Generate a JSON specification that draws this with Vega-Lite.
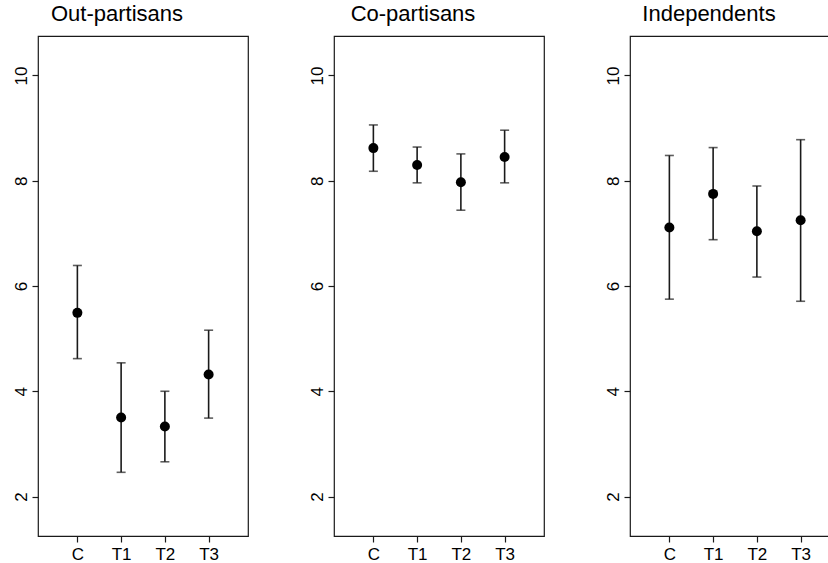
{
  "$schema": "https://vega.github.io/schema/vega-lite/v6.json",
  "padding": {"left": 11, "top": 2, "right": 0, "bottom": 0},
  "background": "white",
  "bounds": "flush",
  "spacing": 86,
  "data": {"values": [
    {"group": "Out-partisans", "cond": "C", "est": 5.49, "lo": 4.62, "hi": 6.39},
    {"group": "Out-partisans", "cond": "T1", "est": 3.50, "lo": 2.46, "hi": 4.54},
    {"group": "Out-partisans", "cond": "T2", "est": 3.33, "lo": 2.66, "hi": 4.00},
    {"group": "Out-partisans", "cond": "T3", "est": 4.32, "lo": 3.49, "hi": 5.16},
    {"group": "Co-partisans", "cond": "C", "est": 8.62, "lo": 8.18, "hi": 9.06},
    {"group": "Co-partisans", "cond": "T1", "est": 8.30, "lo": 7.96, "hi": 8.64},
    {"group": "Co-partisans", "cond": "T2", "est": 7.97, "lo": 7.44, "hi": 8.51},
    {"group": "Co-partisans", "cond": "T3", "est": 8.45, "lo": 7.96, "hi": 8.96},
    {"group": "Independents", "cond": "C", "est": 7.11, "lo": 5.75, "hi": 8.48},
    {"group": "Independents", "cond": "T1", "est": 7.75, "lo": 6.88, "hi": 8.63},
    {"group": "Independents", "cond": "T2", "est": 7.04, "lo": 6.17, "hi": 7.90},
    {"group": "Independents", "cond": "T3", "est": 7.25, "lo": 5.71, "hi": 8.78}
  ]},
  "config": {
    "font": "Liberation Sans",
    "view": {"stroke": "#1a1a1a", "strokeWidth": 1.2},
    "axis": {"grid": false, "domain": false, "tickColor": "#1a1a1a", "tickSize": 6, "tickWidth": 1.2, "labelFont": "Liberation Sans", "labelFontSize": 17, "labelColor": "black"},
    "title": {"fontSize": 22, "fontWeight": "normal", "font": "Liberation Sans", "anchor": "middle", "dx": -26, "offset": 10, "baseline": "alphabetic", "color": "black"}
  },
  "hconcat": [
    {
      "title": "Out-partisans",
      "width": 210, "height": 500,
      "transform": [{"filter": "datum.group === 'Out-partisans'"}],
      "encoding": {"x": {"field": "cond", "type": "ordinal", "scale": {"type": "point", "padding": 0.9, "domain": ["C", "T1", "T2", "T3"]}, "axis": {"labelAngle": 0, "labelPadding": 4, "title": null}}},
      "layer": [
        {"mark": {"type": "rule", "color": "#1a1a1a", "strokeWidth": 1.6}, "encoding": {"y": {"field": "lo", "type": "quantitative", "scale": {"domain": [1.25, 10.75], "nice": false, "zero": false}, "axis": {"values": [2, 4, 6, 8, 10], "labelAngle": -90, "labelPadding": 2, "title": null}}, "y2": {"field": "hi"}}},
        {"mark": {"type": "tick", "orient": "horizontal", "size": 9, "thickness": 1.6, "color": "#1a1a1a"}, "encoding": {"y": {"field": "lo", "type": "quantitative", "axis": {"values": [2, 4, 6, 8, 10], "labelAngle": -90, "labelPadding": 2, "title": null}}}},
        {"mark": {"type": "tick", "orient": "horizontal", "size": 9, "thickness": 1.6, "color": "#1a1a1a"}, "encoding": {"y": {"field": "hi", "type": "quantitative", "axis": {"values": [2, 4, 6, 8, 10], "labelAngle": -90, "labelPadding": 2, "title": null}}}},
        {"mark": {"type": "point", "filled": true, "size": 100, "color": "black", "opacity": 1}, "encoding": {"y": {"field": "est", "type": "quantitative", "axis": {"values": [2, 4, 6, 8, 10], "labelAngle": -90, "labelPadding": 2, "title": null}}}}
      ]
    },
    {
      "title": "Co-partisans",
      "width": 210, "height": 500,
      "transform": [{"filter": "datum.group === 'Co-partisans'"}],
      "encoding": {"x": {"field": "cond", "type": "ordinal", "scale": {"type": "point", "padding": 0.9, "domain": ["C", "T1", "T2", "T3"]}, "axis": {"labelAngle": 0, "labelPadding": 4, "title": null}}},
      "layer": [
        {"mark": {"type": "rule", "color": "#1a1a1a", "strokeWidth": 1.6}, "encoding": {"y": {"field": "lo", "type": "quantitative", "scale": {"domain": [1.25, 10.75], "nice": false, "zero": false}, "axis": {"values": [2, 4, 6, 8, 10], "labelAngle": -90, "labelPadding": 2, "title": null}}, "y2": {"field": "hi"}}},
        {"mark": {"type": "tick", "orient": "horizontal", "size": 9, "thickness": 1.6, "color": "#1a1a1a"}, "encoding": {"y": {"field": "lo", "type": "quantitative", "axis": {"values": [2, 4, 6, 8, 10], "labelAngle": -90, "labelPadding": 2, "title": null}}}},
        {"mark": {"type": "tick", "orient": "horizontal", "size": 9, "thickness": 1.6, "color": "#1a1a1a"}, "encoding": {"y": {"field": "hi", "type": "quantitative", "axis": {"values": [2, 4, 6, 8, 10], "labelAngle": -90, "labelPadding": 2, "title": null}}}},
        {"mark": {"type": "point", "filled": true, "size": 100, "color": "black", "opacity": 1}, "encoding": {"y": {"field": "est", "type": "quantitative", "axis": {"values": [2, 4, 6, 8, 10], "labelAngle": -90, "labelPadding": 2, "title": null}}}}
      ]
    },
    {
      "title": "Independents",
      "width": 210, "height": 500,
      "transform": [{"filter": "datum.group === 'Independents'"}],
      "encoding": {"x": {"field": "cond", "type": "ordinal", "scale": {"type": "point", "padding": 0.9, "domain": ["C", "T1", "T2", "T3"]}, "axis": {"labelAngle": 0, "labelPadding": 4, "title": null}}},
      "layer": [
        {"mark": {"type": "rule", "color": "#1a1a1a", "strokeWidth": 1.6}, "encoding": {"y": {"field": "lo", "type": "quantitative", "scale": {"domain": [1.25, 10.75], "nice": false, "zero": false}, "axis": {"values": [2, 4, 6, 8, 10], "labelAngle": -90, "labelPadding": 2, "title": null}}, "y2": {"field": "hi"}}},
        {"mark": {"type": "tick", "orient": "horizontal", "size": 9, "thickness": 1.6, "color": "#1a1a1a"}, "encoding": {"y": {"field": "lo", "type": "quantitative", "axis": {"values": [2, 4, 6, 8, 10], "labelAngle": -90, "labelPadding": 2, "title": null}}}},
        {"mark": {"type": "tick", "orient": "horizontal", "size": 9, "thickness": 1.6, "color": "#1a1a1a"}, "encoding": {"y": {"field": "hi", "type": "quantitative", "axis": {"values": [2, 4, 6, 8, 10], "labelAngle": -90, "labelPadding": 2, "title": null}}}},
        {"mark": {"type": "point", "filled": true, "size": 100, "color": "black", "opacity": 1}, "encoding": {"y": {"field": "est", "type": "quantitative", "axis": {"values": [2, 4, 6, 8, 10], "labelAngle": -90, "labelPadding": 2, "title": null}}}}
      ]
    }
  ]
}
